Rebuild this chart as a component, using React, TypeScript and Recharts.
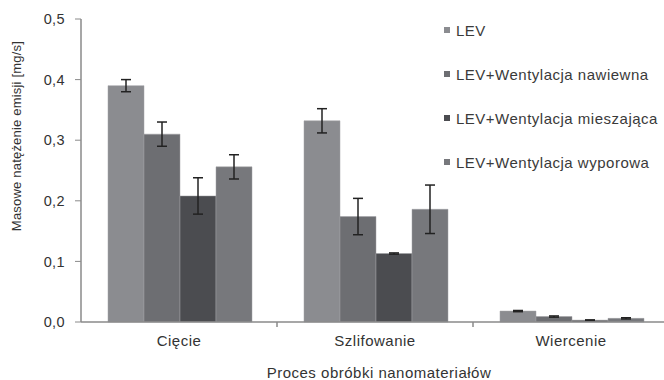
import { BarChart, Bar, XAxis, YAxis, Legend, ErrorBar } from "recharts";

const categories = ["Cięcie", "Szlifowanie", "Wiercenie"];
const seriesNames = [
  "LEV",
  "LEV+Wentylacja nawiewna",
  "LEV+Wentylacja mieszająca",
  "LEV+Wentylacja wyporowa",
];
const lev = [0.39, 0.332, 0.018];
const levErr = [0.01, 0.02, 0.001];
const nawiewna = [0.31, 0.174, 0.009];
const nawiewnaErr = [0.02, 0.03, 0.001];
const mieszajaca = [0.208, 0.113, 0.003];
const mieszajacaErr = [0.03, 0.001, 0.0005];
const wyporowa = [0.256, 0.186, 0.006];
const wyporowaErr = [0.02, 0.04, 0.001];
const yTicks = [0, 0.1, 0.2, 0.3, 0.4, 0.5];

const colors = ["#8b8c90", "#6d6e72", "#4b4c50", "#77787c"];

const data = categories.map((name, i) => ({
  name,
  s0: lev[i],
  e0: levErr[i],
  s1: nawiewna[i],
  e1: nawiewnaErr[i],
  s2: mieszajaca[i],
  e2: mieszajacaErr[i],
  s3: wyporowa[i],
  e3: wyporowaErr[i],
}));

const W = 680;
const H = 380;
const LEFT = 81;
const RIGHT = 11;
const font = "'Liberation Sans', Arial, sans-serif";
const band = (W - LEFT - RIGHT) / categories.length;

const XTick = (props: any) => {
  const { x, y, payload } = props;
  const half = payload?.offset || band / 2;
  return (
    <g>
      <line x1={x + half} x2={x + half} y1={y - 8} y2={y - 3} stroke="#8a8a8a" strokeWidth={1.5} />
      <text x={x} y={y + 16} textAnchor="middle" fontSize={15} letterSpacing={0.5} fill="#333" fontFamily={font}>
        {payload.value}
      </text>
    </g>
  );
};

const LegendBox = () => (
  <div style={{ fontFamily: font, fontSize: 15, letterSpacing: 0.5, color: "#3a3a3a", textAlign: "left" }}>
    {seriesNames.map((n, i) => (
      <div key={n} style={{ display: "flex", alignItems: "center", height: 44 }}>
        <span style={{ width: 6, height: 6, background: colors[i], marginRight: 6, display: "inline-block" }} />
        <span>{n}</span>
      </div>
    ))}
  </div>
);

export default function App() {
  return (
    <div style={{ position: "absolute", left: 0, top: 0, width: 664, height: 380, overflow: "hidden", background: "#fff" }}>
      <BarChart
        width={W}
        height={H}
        data={data}
        margin={{ top: 19, right: RIGHT, left: 0, bottom: 0 }}
        barCategoryGap={27}
        barGap={0}
      >
        <XAxis
          dataKey="name"
          height={58}
          axisLine={{ stroke: "#8a8a8a", strokeWidth: 1.5 }}
          tickLine={false}
          tick={<XTick />}
          label={{
            content: () => (
              <text x={379} y={378} textAnchor="middle" fontSize={15} letterSpacing={0.5} fill="#333" fontFamily={font}>
                Proces obróbki nanomateriałów
              </text>
            ),
          }}
        />
        <YAxis
          width={81}
          domain={[0, 0.5]}
          ticks={yTicks}
          interval={0}
          axisLine={{ stroke: "#8a8a8a", strokeWidth: 1.5 }}
          tickLine={{ stroke: "#8a8a8a" }}
          tickSize={6}
          tickMargin={10}
          tick={{ fontSize: 14.5, fill: "#333", fontFamily: font, letterSpacing: 0.4 }}
          tickFormatter={(v: number) => v.toFixed(1).replace(".", ",")}
          label={{
            content: () => (
              <text
                x={21}
                y={136}
                transform="rotate(-90, 21, 136)"
                textAnchor="middle"
                fontSize={13}
                letterSpacing={0.2}
                fill="#333"
                fontFamily={font}
              >
                Masowe natężenie emisji [mg/s]
              </text>
            ),
          }}
        />
        <Legend
          layout="horizontal"
          verticalAlign="middle"
          align="center"
          content={<LegendBox />}
          wrapperStyle={{ left: 444, top: 8, width: 240 }}
        />
        {[0, 1, 2, 3].map((i) => (
          <Bar
            key={i}
            dataKey={`s${i}`}
            name={seriesNames[i]}
            fill={colors[i]}
            stroke="#a0a1a5"
            strokeWidth={0.5}
            isAnimationActive={false}
          >
            <ErrorBar dataKey={`e${i}`} width={5} stroke="#222" strokeWidth={1.5} />
          </Bar>
        ))}
      </BarChart>
    </div>
  );
}
